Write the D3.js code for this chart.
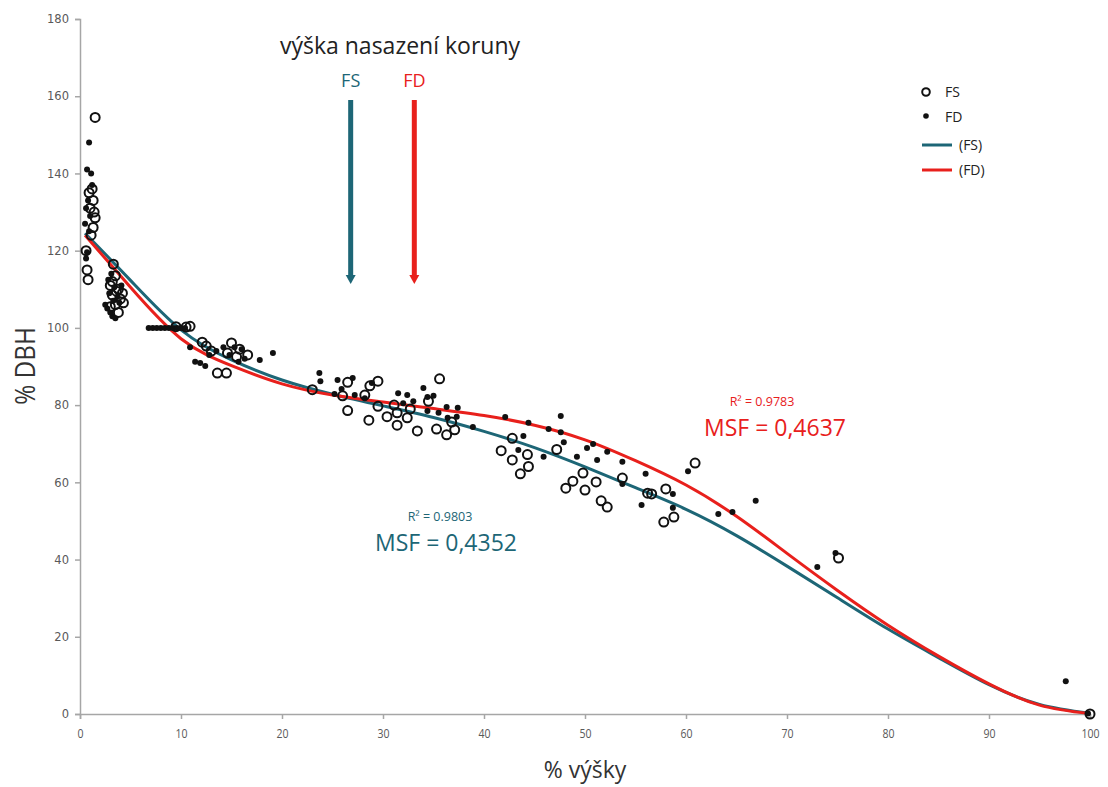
<!DOCTYPE html>
<html>
<head>
<meta charset="utf-8">
<script src="https://cdn.jsdelivr.net/npm/d3@7"></script>
<style>
  body { margin: 0; background: #fff; }
  .tick text { fill: #595959; }
</style>
</head>
<body>
<div class="chart"></div>
<script>
// Data
var fsPoints = [
  [1.5,154.5],[1.2,136],[1.3,133],[1.0,131],[1.5,128.5],[1.3,126],[1.1,124],[0.7,115],[0.8,112.5],[0.6,120],[1.4,130],[0.9,135],
  [3.3,116.5],[3.5,113.5],[3.2,112],[3.0,111],[3.8,110],[4.2,109],[3.2,108.5],[4.0,107.5],[3.5,106],[3.0,105.5],[3.8,104],[4.3,106.5],[3.6,109.5],
  [9.5,100.3],[10.5,100.2],[10.9,100.4],
  [12.1,96.3],[12.5,95.3],[13.6,88.3],[14.5,88.3],[15.0,96.1],[15.8,94.5],[14.6,93.5],[16.6,93],[15.5,92.5],[13.0,94],
  [23.0,84.0],[26.0,82.4],[26.5,78.6],[26.5,85.9],[28.2,82.6],[28.6,76.1],[28.7,85],[29.5,86.2],[29.5,79.7],[30.4,77],[31.4,78],[31.1,80],
  [31.4,74.8],[32.4,76.7],[32.7,79],[33.4,73.3],[34.5,81],[35.6,86.8],[35.3,73.8],[36.3,72.3],[36.8,75.6],[37.1,73.6],
  [42.8,71.4],[41.7,68.2],[44.3,67.2],[42.8,65.8],[44.4,64.1],[43.6,62.2],[47.2,68.5],[48.1,58.5],[48.8,60.3],[49.8,62.4],[50,58],
  [51.1,60.1],[51.6,55.2],[52.2,53.6],[53.7,61.1],[56.2,57.2],[56.6,57],[58,58.3],[58.8,51],[57.8,49.7],[60.9,65],[75.1,40.4],[100,0]
];

var fdPoints = [
  [0.9,148],[0.7,141],[1.1,140],[0.5,127],[0.7,119.6],[0.6,118],[0.8,133],[1.0,129],[0.6,131],[1.2,137],[0.9,125],
  [3.1,114],[2.8,112.5],[3.4,110.5],[2.9,109],[3.3,107],[2.7,105],[3.2,103],[3.5,102.5],[3.0,104],[3.9,106.5],[4.1,111],[2.5,106],[3.7,108],
  [6.8,100],[7.2,100],[7.6,100],[8,100],[8.4,100],[8.8,100],[9.2,100],[9.6,100],[10,100],[10.4,100],
  [10.9,95],[11.4,91.2],[11.9,90.9],[12.4,90.1],[13.5,94],[14.2,95],[14.8,93],[15.3,95],[16.0,94.5],[16.3,92],[15.7,91.2],[17.8,91.7],[19.1,93.5],[12.8,93],
  [23.7,88.3],[23.8,86.2],[25.2,82.9],[25.5,86.5],[25.9,84.2],[27.0,87],[27.2,82.6],[28.2,81.8],[28.9,85.7],[31.5,83.1],[32.4,82.6],[32.0,80.5],
  [33.0,81],[34.0,84.4],[34.4,82.1],[35.0,82.4],[34.4,78.5],[35.5,78],[36.3,79.5],[36.4,76.7],[37.4,79.3],[37.3,77],[38.9,74.3],
  [42.1,76.9],[44.4,75.4],[43.9,72],[43.4,68.4],[45.9,66.6],[46.4,73.8],[47.6,77.2],[47.6,73],[47.9,70.4],[49.2,66.6],[50.2,68.9],[50.8,69.9],
  [51.2,65.8],[52.2,67.9],[53.7,65.3],[53.7,59.6],[56,62.2],[55.6,54.1],[58.7,57],[58.7,53.4],[60.2,62.9],[63.2,51.8],[64.6,52.3],[66.9,55.2],
  [73,38.1],[74.8,41.7],[97.6,8.5],[99.8,0.1]
];

// Trend lines, read at fixed x positions
var fitX  = [0.5, 5, 10, 15, 20, 25, 30, 35, 40, 45, 50, 55, 60, 65, 70, 75, 80, 85, 90, 95, 100];
var fitFS = [124.5, 112.3, 99.5, 91.7, 86.5, 82.8, 79.8, 76.8, 73.2, 69, 64, 58.6, 53, 46.2, 38.3, 30.1, 22, 14.6, 7.6, 2.5, 0.2];
var fitFD = [124, 110.5, 97.2, 90.2, 85.5, 82.6, 80.8, 79.1, 77.3, 74.8, 71, 65.6, 59.3, 51.2, 41.6, 32, 23, 15, 7.8, 2.3, 0.1];

// Crown base height markers
var crownNames = ["FS", "FD"];
var crownX = [26.8, 33.1];

var xTicks = [0, 10, 20, 30, 40, 50, 60, 70, 80, 90, 100];
var yTicks = [0, 20, 40, 60, 80, 100, 120, 140, 160, 180];

var teal = "#1d6676";
var red = "#e8201c";

var svgWidth = 1108;
var svgHeight = 787;

var svg = d3.select(".chart")
  .append("svg")
  .attr("width", svgWidth)
  .attr("height", svgHeight)
  .style("font-family", "'Open Sans', sans-serif");

var xScale = d3.scaleLinear().domain([0, 100]).range([80, 1090]);
var yScale = d3.scaleLinear().domain([0, 180]).range([714, 19]);

// Axes
var xAxis = svg.append("g")
  .attr("transform", `translate(0, ${yScale(0)})`)
  .call(d3.axisBottom(xScale).tickValues(xTicks).tickSize(5).tickPadding(9));
var yAxis = svg.append("g")
  .attr("transform", `translate(${xScale(0)}, 0)`)
  .call(d3.axisLeft(yScale).tickValues(yTicks).tickSize(5).tickPadding(6));

[xAxis, yAxis].forEach(a => {
  a.select(".domain").attr("stroke", "#a6a6a6").attr("stroke-width", 1.5);
  a.selectAll(".tick line").attr("stroke", "#a6a6a6").attr("stroke-width", 1.5);
});
xAxis.selectAll(".tick text")
  .style("font-family", "'Open Sans', sans-serif")
  .style("font-size", "13.5px")
  .attr("transform", "scale(0.78,1)");
yAxis.selectAll(".tick text")
  .style("font-family", "'DejaVu Sans', sans-serif")
  .style("font-size", "11.5px");

// Axis titles
svg.append("text")
  .attr("x", 585)
  .attr("y", 778)
  .attr("text-anchor", "middle")
  .style("font-size", "23px")
  .attr("fill", "#333")
  .text("% výšky");

svg.append("text")
  .attr("transform", `translate(35, 366) rotate(-90) scale(0.9,1)`)
  .attr("text-anchor", "middle")
  .style("font-size", "27px")
  .attr("fill", "#333")
  .text("% DBH");

// Trend lines
var line = d3.line()
  .x(d => xScale(d[0]))
  .y(d => yScale(d[1]))
  .curve(d3.curveNatural);

svg.append("path")
  .datum(fitX.map((x, i) => [x, fitFS[i]]))
  .attr("d", line)
  .attr("fill", "none")
  .attr("stroke", teal)
  .attr("stroke-width", 3);

svg.append("path")
  .datum(fitX.map((x, i) => [x, fitFD[i]]))
  .attr("d", line)
  .attr("fill", "none")
  .attr("stroke", red)
  .attr("stroke-width", 3);

// Points
svg.append("g").selectAll("circle")
  .data(fsPoints)
  .enter()
  .append("circle")
  .attr("cx", d => xScale(d[0]))
  .attr("cy", d => yScale(d[1]))
  .attr("r", 4.5)
  .attr("fill", "none")
  .attr("stroke", "#111")
  .attr("stroke-width", 2);

svg.append("g").selectAll("circle")
  .data(fdPoints)
  .enter()
  .append("circle")
  .attr("cx", d => xScale(d[0]))
  .attr("cy", d => yScale(d[1]))
  .attr("r", 3)
  .attr("fill", "#111");

// Crown height arrows
svg.append("text")
  .attr("x", 400)
  .attr("y", 54)
  .attr("text-anchor", "middle")
  .style("font-size", "23px")
  .attr("fill", "#222")
  .text("výška nasazení koruny");

var arrowColors = [teal, red];
crownNames.forEach((name, i) => {
  var cx = xScale(crownX[i]);
  svg.append("text")
    .attr("x", cx)
    .attr("y", 87)
    .attr("text-anchor", "middle")
    .style("font-size", "18px")
    .attr("fill", arrowColors[i])
    .text(name);
  svg.append("line")
    .attr("x1", cx).attr("x2", cx)
    .attr("y1", 100).attr("y2", 276)
    .attr("stroke", arrowColors[i])
    .attr("stroke-width", 5);
  svg.append("path")
    .attr("d", `M${cx - 5},275 L${cx + 5},275 L${cx},284 Z`)
    .attr("fill", arrowColors[i]);
});

// Fit annotations
svg.append("text").attr("x", 762).attr("y", 406).attr("text-anchor", "middle")
  .style("font-size", "12.5px").attr("fill", red).text("R² = 0.9783");
svg.append("text").attr("x", 775).attr("y", 436).attr("text-anchor", "middle")
  .style("font-size", "23px").attr("fill", red).text("MSF = 0,4637");
svg.append("text").attr("x", 440).attr("y", 521).attr("text-anchor", "middle")
  .style("font-size", "12.5px").attr("fill", teal).text("R² = 0.9803");
svg.append("text").attr("x", 446).attr("y", 551).attr("text-anchor", "middle")
  .style("font-size", "23px").attr("fill", teal).text("MSF = 0,4352");

// Legend
var legend = svg.append("g").style("font-size", "14px").attr("fill", "#222");
legend.append("circle").attr("cx", 926).attr("cy", 92).attr("r", 3.8)
  .attr("fill", "none").attr("stroke", "#111").attr("stroke-width", 2);
legend.append("text").attr("x", 945).attr("y", 97).text("FS");
legend.append("circle").attr("cx", 926).attr("cy", 116).attr("r", 2.8).attr("fill", "#111");
legend.append("text").attr("x", 945).attr("y", 122).text("FD");
legend.append("line").attr("x1", 922).attr("x2", 952).attr("y1", 145).attr("y2", 145)
  .attr("stroke", teal).attr("stroke-width", 3);
legend.append("text").attr("x", 959).attr("y", 150).text("(FS)");
legend.append("line").attr("x1", 922).attr("x2", 952).attr("y1", 170).attr("y2", 170)
  .attr("stroke", red).attr("stroke-width", 3);
legend.append("text").attr("x", 959).attr("y", 175).text("(FD)");
</script>
</body>
</html>
